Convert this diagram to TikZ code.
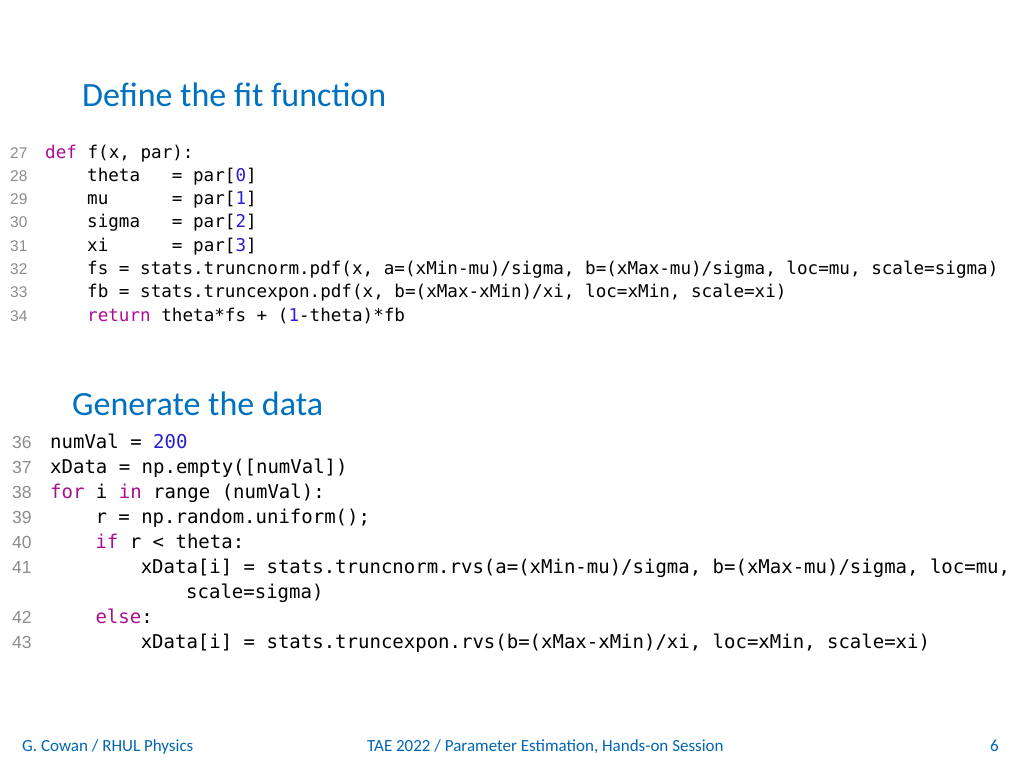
\documentclass[tikz,border=0pt]{standalone}
\usepackage{fontspec}
\setmainfont{Carlito}
\newfontfamily\codefont{DejaVu Sans Mono}
\newfontfamily\numfont{Liberation Sans}
\definecolor{ttl}{RGB}{0,112,192}
\definecolor{kw}{RGB}{173,13,145}
\definecolor{nm}{RGB}{40,30,205}
\definecolor{ln}{RGB}{140,140,140}
\definecolor{ft}{RGB}{0,102,180}
\newcommand{\kw}[1]{\textcolor{kw}{#1}}
\newcommand{\nm}[1]{\textcolor{nm}{#1}}
\begin{document}
\begin{tikzpicture}[x=1pt,y=-1pt,
  title/.style={anchor=base west,inner sep=0,text=ttl,font=\fontsize{34}{36}\selectfont},
  codeA/.style={anchor=base west,inner sep=0,font=\codefont\fontsize{17.6}{20}\selectfont},
  codeB/.style={anchor=base west,inner sep=0,font=\codefont\fontsize{19}{22}\selectfont},
  lnA/.style={anchor=base west,inner sep=0,text=ln,font=\numfont\fontsize{15.5}{17}\selectfont},
  lnB/.style={anchor=base west,inner sep=0,text=ln,font=\numfont\fontsize{17.5}{19}\selectfont},
  foot/.style={anchor=base west,inner sep=0,text=ft,font=\fontsize{17}{19}\selectfont}]
\useasboundingbox (0,0) rectangle (1024,768);
\node[title] (t1) at (82,106) {Define the fit function};
\foreach \n [count=\k from 0] in {27,...,34}{\node[lnA] (la\n) at (10,158+23.3*\k) {\n};}
\node[codeA] (a0) at (45,158) {\kw{def} f(x, par):};
\node[codeA] (a1) at (87,181.3) {theta~~~= par[\nm{0}]};
\node[codeA] (a2) at (87,204.6) {mu~~~~~~= par[\nm{1}]};
\node[codeA] (a3) at (87,227.9) {sigma~~~= par[\nm{2}]};
\node[codeA] (a4) at (87,251.2) {xi~~~~~~= par[\nm{3}]};
\node[codeA] (a5) at (87,274.5) {fs = stats.truncnorm.pdf(x, a=(xMin-mu)/sigma, b=(xMax-mu)/sigma, loc=mu, scale=sigma)};
\node[codeA] (a6) at (87,297.8) {fb = stats.truncexpon.pdf(x, b=(xMax-xMin)/xi, loc=xMin, scale=xi)};
\node[codeA] (a7) at (87,321.1) {\kw{return} theta*fs + (\nm{1}-theta)*fb};
\node[title] (t2) at (72,415) {Generate the data};
\foreach \n/\y in {36/448,37/473.1,38/498.2,39/523.3,40/548.4,41/573.5,42/623.7,43/648.8}{\node[lnB] (lb\n) at (12,\y) {\n};}
\node[codeB] (b0) at (50,448) {numVal = \nm{200}};
\node[codeB] (b1) at (50,473.1) {xData = np.empty([numVal])};
\node[codeB] (b2) at (50,498.2) {\kw{for} i \kw{in} range (numVal):};
\node[codeB] (b3) at (95.3,523.3) {r = np.random.uniform();};
\node[codeB] (b4) at (95.3,548.4) {\kw{if} r < theta:};
\node[codeB] (b5) at (140.6,573.5) {xData[i] = stats.truncnorm.rvs(a=(xMin-mu)/sigma, b=(xMax-mu)/sigma, loc=mu,};
\node[codeB] (b6) at (186,598.6) {scale=sigma)};
\node[codeB] (b7) at (95.3,623.7) {\kw{else}:};
\node[codeB] (b8) at (140.6,648.8) {xData[i] = stats.truncexpon.rvs(b=(xMax-xMin)/xi, loc=xMin, scale=xi)};
\node[foot] (f1) at (22,751) {G. Cowan / RHUL Physics};
\node[foot] (f2) at (367,751) {TAE 2022 / Parameter Estimation, Hands-on Session};
\node[foot] (f3) at (990,751) {6};
\end{tikzpicture}
\end{document}
